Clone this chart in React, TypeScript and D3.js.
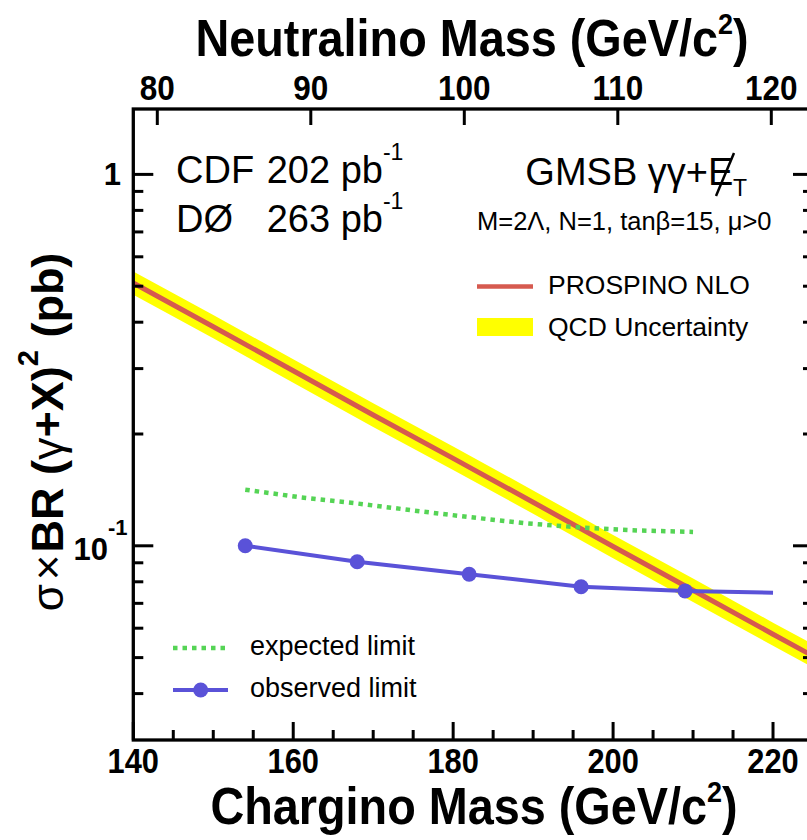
import * as d3 from "d3";

// chargino mass grid for the theory curve (GeV/c^2)
const theoryMass = [140, 150, 160, 170, 180, 190, 200, 210, 220, 225];
const prospinoNLO = [0.51, 0.389, 0.296, 0.225, 0.172, 0.131, 0.0996, 0.0759, 0.0578, 0.0505];
const qcdUpper = [0.548, 0.418, 0.318, 0.242, 0.185, 0.141, 0.107, 0.0816, 0.0621, 0.0543];
const qcdLower = [0.474, 0.362, 0.275, 0.209, 0.16, 0.122, 0.0926, 0.0706, 0.0538, 0.047];

const expectedMass = [154, 161, 168, 175, 182, 189, 196, 203, 210];
const expectedLimit = [0.1416, 0.135, 0.13, 0.1245, 0.1195, 0.115, 0.112, 0.11, 0.109];

const observedMass = [154, 168, 182, 196, 209, 220];
const observedLimit = [0.1, 0.0906, 0.0838, 0.0776, 0.0756, 0.0748];
const observedMarker = [true, true, true, true, true, false];

const xMajorTicks = [140, 160, 180, 200, 220];
const xMinorTicks = [145, 150, 155, 165, 170, 175, 185, 190, 195, 205, 210, 215];
const topTicks = [80, 90, 100, 110, 120];
const yMajorTicks = [0.1, 1];
const yMinorTicks = [0.04, 0.05, 0.06, 0.07, 0.08, 0.09, 0.2, 0.3, 0.4, 0.5, 0.6, 0.7, 0.8, 0.9];

const W = 807;
const H = 840;
const left = 133.3;
const right = 813;
const top = 109;
const bottom = 740;

const font = "'Liberation Sans', Arial, Helvetica, sans-serif";
const RED = "#d65a4f";
const YELLOW = "#ffff00";
const GREEN = "#55d455";
const BLUE = "#5a52d8";

// narrow bold label, squeezed horizontally around its anchor
function Narrow({ x, y, size, sx = 0.9, children }: any) {
  return (
    <text
      transform={`translate(${x},${y}) scale(${sx},1)`}
      textAnchor="middle"
      fontWeight="bold"
      fontSize={size}
    >
      {children}
    </text>
  );
}

export default function App() {
  const x = d3.scaleLinear().domain([140, 225]).range([left, right]);
  const xTop = d3.scaleLinear().domain([80, 120]).range([157.3, 771.3]);
  const y = d3.scaleLog().domain([0.03, 1.5]).range([bottom, top]);

  const theory = theoryMass.map((m, i) => ({ m, v: prospinoNLO[i], hi: qcdUpper[i], lo: qcdLower[i] }));
  const band = d3
    .area<any>()
    .x((d) => x(d.m))
    .y0((d) => y(d.lo))
    .y1((d) => y(d.hi))(theory);
  const line = d3.line<[number, number]>().x((d) => x(d[0])).y((d) => y(d[1]));
  const nloPath = line(theoryMass.map((m, i) => [m, prospinoNLO[i]]));
  const expPath = line(expectedMass.map((m, i) => [m, expectedLimit[i]]));
  const obsPath = line(observedMass.map((m, i) => [m, observedLimit[i]]));

  const eX = 708;

  return (
    <svg
      width={W}
      height={H}
      style={{ position: "absolute", left: 0, top: 0, background: "#fff" }}
      fontFamily={font}
    >
      <defs>
        <clipPath id="plot">
          <rect x={left} y={top} width={right - left} height={bottom - top} />
        </clipPath>
      </defs>

      {/* curves */}
      <g clipPath="url(#plot)">
        <path d={band || ""} fill={YELLOW} />
        <path d={nloPath || ""} fill="none" stroke={RED} strokeWidth={5} />
        <path d={expPath || ""} fill="none" stroke={GREEN} strokeWidth={4.5} strokeDasharray="4.5 5" />
        <path d={obsPath || ""} fill="none" stroke={BLUE} strokeWidth={4} />
        {observedMass.map((m, i) =>
          observedMarker[i] ? <circle key={m} cx={x(m)} cy={y(observedLimit[i])} r={7.5} fill={BLUE} /> : null
        )}
      </g>

      {/* frame */}
      <rect x={left} y={top} width={right - left} height={bottom - top} fill="none" stroke="#000" strokeWidth={3.3} />

      {/* ticks */}
      <g stroke="#000" strokeWidth={3}>
        {xMajorTicks.map((t) => (
          <line key={"M" + t} x1={x(t)} x2={x(t)} y1={bottom} y2={bottom - 18} />
        ))}
        {xMinorTicks.map((t) => (
          <line key={"m" + t} x1={x(t)} x2={x(t)} y1={bottom} y2={bottom - 10} />
        ))}
        {topTicks.map((t) => (
          <line key={"t" + t} x1={xTop(t)} x2={xTop(t)} y1={top} y2={top + 16} />
        ))}
        {yMajorTicks.map((t) => (
          <g key={"Y" + t}>
            <line x1={left} x2={left + 20} y1={y(t)} y2={y(t)} />
            <line x1={right} x2={right - 20} y1={y(t)} y2={y(t)} />
          </g>
        ))}
        {yMinorTicks.map((t) => (
          <g key={"y" + t}>
            <line x1={left} x2={left + 10} y1={y(t)} y2={y(t)} />
            <line x1={right} x2={right - 10} y1={y(t)} y2={y(t)} />
          </g>
        ))}
      </g>

      {/* tick labels */}
      {xMajorTicks.map((t) => (
        <Narrow key={"bx" + t} x={x(t)} y={773} size={35} sx={0.88}>
          {t}
        </Narrow>
      ))}
      {topTicks.map((t) => (
        <Narrow key={"tx" + t} x={xTop(t)} y={100} size={35} sx={0.9}>
          {t}
        </Narrow>
      ))}
      <g fontWeight="bold" fontSize={31}>
        <text x={121} y={y(1) + 11} textAnchor="end">
          1
        </text>
        <text x={108} y={y(0.1) + 14} textAnchor="end">
          10
        </text>
        <text x={108} y={y(0.1) - 11} fontSize={22}>
          -1
        </text>
      </g>

      {/* axis titles */}
      <Narrow x={472} y={56} size={52} sx={0.9}>
        Neutralino Mass (GeV/c
        <tspan dy={-22} fontSize={30}>
          2
        </tspan>
        <tspan dy={22}>)</tspan>
      </Narrow>
      <Narrow x={474} y={824} size={52} sx={0.9}>
        Chargino Mass (GeV/c
        <tspan dy={-22} fontSize={30}>
          2
        </tspan>
        <tspan dy={22}>)</tspan>
      </Narrow>
      <text transform="translate(63,432) rotate(-90)" textAnchor="middle" fontWeight="bold" fontSize={45}>
        <tspan fontWeight="normal" fontSize={44}>
          σ
        </tspan>
        <tspan fontWeight="normal" fontSize={44} dx={4}>
          ×
        </tspan>
        <tspan dx={2}>BR (</tspan>
        <tspan fontWeight="normal">γ</tspan>+X)
        <tspan dy={-25} fontSize={29}>
          2
        </tspan>
        <tspan dy={25}> (pb)</tspan>
      </text>

      {/* upper-left luminosity text */}
      <g fontSize={38}>
        <text x={176} y={183}>
          CDF
        </text>
        <text x={266.7} y={183}>
          202 pb
          <tspan dy={-23} fontSize={23}>
            -1
          </tspan>
        </text>
        <text x={176} y={232}>
          DØ
        </text>
        <text x={266.7} y={232}>
          263 pb
          <tspan dy={-23} fontSize={23}>
            -1
          </tspan>
        </text>
      </g>

      {/* model text */}
      <text x={eX} y={185} fontSize={38} textAnchor="end">
        GMSB γγ+
      </text>
      <text x={eX} y={185} fontSize={38}>
        E
      </text>
      <line x1={eX + 8} y1={196} x2={eX + 26} y2={153} stroke="#000" strokeWidth={2.5} />
      <text x={eX + 25} y={196} fontSize={23}>
        T
      </text>
      <text x={477} y={230} fontSize={25.5}>
        M=2Λ, N=1, tanβ=15, μ&gt;0
      </text>

      {/* theory legend */}
      <line x1={477} x2={533} y1={286.5} y2={286.5} stroke={RED} strokeWidth={4.5} />
      <text x={548} y={294} fontSize={26.5}>
        PROSPINO NLO
      </text>
      <rect x={477} y={318} width={56} height={18} fill={YELLOW} />
      <text x={548} y={336} fontSize={26.5}>
        QCD Uncertainty
      </text>

      {/* limit legend */}
      <line x1={173} x2={227} y1={648} y2={648} stroke={GREEN} strokeWidth={4.5} strokeDasharray="4.5 5" />
      <text x={250} y={655} fontSize={27}>
        expected limit
      </text>
      <line x1={173} x2={228} y1={690} y2={690} stroke={BLUE} strokeWidth={4} />
      <circle cx={200.7} cy={690} r={7.5} fill={BLUE} />
      <text x={250} y={697} fontSize={27}>
        observed limit
      </text>
    </svg>
  );
}
